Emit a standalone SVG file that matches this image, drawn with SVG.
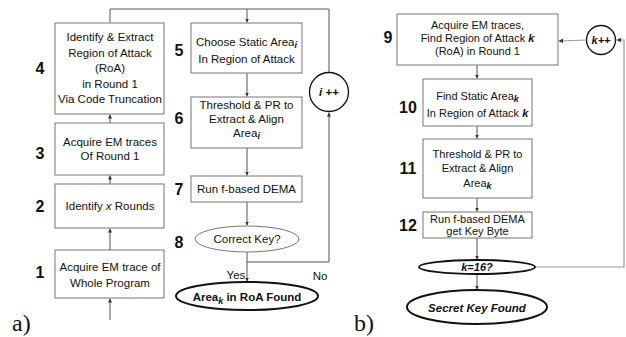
<svg xmlns="http://www.w3.org/2000/svg" width="626" height="337" viewBox="0 0 626 337">
  <style>
    .box { fill: #fff; stroke: #777; stroke-width: 1; }
    .t { font-family: "Liberation Sans", Arial, sans-serif; font-size: 11.5px; fill: #111; text-anchor: middle; }
    .ts { font-family: "Liberation Sans", Arial, sans-serif; font-size: 11px; fill: #111; text-anchor: middle; }
    .num { font-family: "Liberation Sans", Arial, sans-serif; font-size: 16px; font-weight: bold; fill: #111; text-anchor: middle; }
    .cap { font-family: "Liberation Serif", "Times New Roman", serif; font-size: 24px; fill: #111; }
    .line { fill: none; stroke: #555; stroke-width: 1; }
    .loop { fill: none; stroke: #999; stroke-width: 1.2; }
    .sub { font-size: 9px; font-style: italic; font-weight: bold; }
  </style>
  <defs>
    <marker id="arr" viewBox="0 0 6 6" refX="6" refY="3" markerWidth="4" markerHeight="4" orient="auto">
      <path d="M0,0 L6,3 L0,6 z" fill="#333"/>
    </marker>
  </defs>

  <rect width="626" height="337" fill="#fff"/>

  <!-- connectors -->
  <g id="connectors">
    <!-- part a: upward chain on the left -->
    <line class="line" x1="110" y1="320" x2="110" y2="298.5" marker-end="url(#arr)"/>
    <line class="line" x1="110" y1="250" x2="110" y2="228.5" marker-end="url(#arr)"/>
    <line class="line" x1="110" y1="184" x2="110" y2="175.5" marker-end="url(#arr)"/>
    <line class="line" x1="110" y1="123" x2="110" y2="114.5" marker-end="url(#arr)"/>
    <!-- part a: top bus and downward chain -->
    <polyline class="line" points="110,23 110,9 329,9 329,72.5"/>
    <line class="line" x1="247" y1="9" x2="247" y2="22.5" marker-end="url(#arr)"/>
    <line class="line" x1="247" y1="73" x2="247" y2="96.5" marker-end="url(#arr)"/>
    <line class="line" x1="247" y1="148" x2="247" y2="175.5" marker-end="url(#arr)"/>
    <line class="line" x1="247" y1="202" x2="247" y2="225.5" marker-end="url(#arr)"/>
    <line class="line" x1="247" y1="252" x2="247" y2="281.5" marker-end="url(#arr)"/>
    <polyline class="line" points="247,262 329,262 329,112.5" marker-end="url(#arr)"/>
    <!-- part b -->
    <line class="line" x1="477" y1="65" x2="477" y2="78.5" marker-end="url(#arr)"/>
    <line class="line" x1="477" y1="126" x2="477" y2="138.5" marker-end="url(#arr)"/>
    <line class="line" x1="477" y1="198" x2="477" y2="211.5" marker-end="url(#arr)"/>
    <line class="line" x1="477" y1="238" x2="477" y2="259.5" marker-end="url(#arr)"/>
    <line class="line" x1="477" y1="274" x2="477" y2="289.5" marker-end="url(#arr)"/>
    <polyline class="loop" points="535,267 624,267 624,40 616.5,40" marker-end="url(#arr)"/>
    <line class="loop" x1="587" y1="40" x2="558.5" y2="41" marker-end="url(#arr)"/>
  </g>

  <!-- part a nodes -->
  <g id="n4">
    <rect class="box" x="55" y="23" width="109" height="91"/>
    <text class="t" x="110" y="41">Identify &amp; Extract</text>
    <text class="t" x="110" y="57">Region of Attack</text>
    <text class="t" x="110" y="72">(RoA)</text>
    <text class="t" x="110" y="88">in Round 1</text>
    <text class="t" x="110" y="103">Via Code Truncation</text>
    <text class="num" x="40" y="74">4</text>
  </g>
  <g id="n3">
    <rect class="box" x="55" y="123" width="109" height="52"/>
    <text class="t" x="110" y="146">Acquire EM traces</text>
    <text class="t" x="110" y="160">Of Round 1</text>
    <text class="num" x="40" y="159">3</text>
  </g>
  <g id="n2">
    <rect class="box" x="55" y="184" width="109" height="44"/>
    <text class="t" x="110" y="210">Identify <tspan font-style="italic">x</tspan> Rounds</text>
    <text class="num" x="40" y="212">2</text>
  </g>
  <g id="n1">
    <rect class="box" x="55" y="250" width="109" height="48"/>
    <text class="t" x="110" y="271">Acquire EM trace of</text>
    <text class="t" x="110" y="287">Whole Program</text>
    <text class="num" x="40" y="278">1</text>
  </g>
  <g id="n5">
    <rect class="box" x="191" y="23" width="111" height="50"/>
    <text class="t" x="246.5" y="46">Choose Static Area<tspan class="sub" dy="2">i</tspan></text>
    <text class="t" x="246.5" y="63">In Region of Attack</text>
    <text class="num" x="179" y="56">5</text>
  </g>
  <g id="n6">
    <rect class="box" x="191" y="97" width="111" height="51"/>
    <text class="t" x="246.5" y="109">Threshold &amp; PR to</text>
    <text class="t" x="246.5" y="123">Extract &amp; Align</text>
    <text class="t" x="246.5" y="137">Area<tspan class="sub" dy="2">i</tspan></text>
    <text class="num" x="179" y="124">6</text>
  </g>
  <g id="n7">
    <rect class="box" x="191" y="176" width="111" height="26"/>
    <text class="t" x="246.5" y="193">Run f-based DEMA</text>
    <text class="num" x="179" y="195">7</text>
  </g>
  <g id="n8">
    <ellipse cx="247" cy="239" rx="52" ry="13" fill="#fff" stroke="#777" stroke-width="1"/>
    <text class="t" x="247" y="243">Correct Key?</text>
    <text class="num" x="179" y="248">8</text>
    <text class="t" x="236" y="279">Yes</text>
    <text class="t" x="320" y="280">No</text>
  </g>
  <g id="n_inc_i">
    <circle cx="329" cy="92" r="19.5" fill="#fff" stroke="#111" stroke-width="1.3"/>
    <text class="t" x="329" y="96" font-weight="bold"><tspan font-style="italic">i</tspan> ++</text>
  </g>
  <g id="n_found_a">
    <ellipse cx="247" cy="296" rx="71" ry="14" fill="#fff" stroke="#111" stroke-width="2"/>
    <text class="t" x="247" y="301" font-size="13" font-weight="bold">Area<tspan class="sub" dy="3">k</tspan><tspan dy="-3"> in RoA Found</tspan></text>
  </g>
  <text class="cap" x="12" y="331">a)</text>

  <!-- part b nodes -->
  <g id="n9">
    <rect class="box" x="397" y="14" width="161" height="51"/>
    <text class="ts" x="477.5" y="29">Acquire EM traces,</text>
    <text class="ts" x="477.5" y="42">Find  Region of Attack <tspan font-weight="bold" font-style="italic">k</tspan></text>
    <text class="ts" x="477.5" y="55">(RoA) in Round 1</text>
    <text class="num" x="388" y="43">9</text>
  </g>
  <g id="n10">
    <rect class="box" x="423" y="79" width="109" height="47"/>
    <text class="ts" x="477.5" y="100">Find Static Area<tspan class="sub" dy="2">k</tspan></text>
    <text class="ts" x="477.5" y="117">In Region of Attack <tspan font-weight="bold" font-style="italic">k</tspan></text>
    <text class="num" x="408" y="113">10</text>
  </g>
  <g id="n11">
    <rect class="box" x="423" y="139" width="109" height="59"/>
    <text class="ts" x="477.5" y="158">Threshold &amp; PR to</text>
    <text class="ts" x="477.5" y="172">Extract &amp; Align</text>
    <text class="ts" x="477.5" y="187">Area<tspan class="sub" dy="2">k</tspan></text>
    <text class="num" x="408" y="174">11</text>
  </g>
  <g id="n12">
    <rect class="box" x="423" y="212" width="109" height="26"/>
    <text class="ts" x="477.5" y="223">Run f-based DEMA</text>
    <text class="ts" x="477.5" y="235">get Key Byte</text>
    <text class="num" x="408" y="231">12</text>
  </g>
  <g id="n_check">
    <ellipse cx="477" cy="267" rx="58" ry="7" fill="#fff" stroke="#111" stroke-width="1.8"/>
    <text class="ts" x="477" y="271" font-weight="bold" font-style="italic">k=16?</text>
  </g>
  <g id="n_inc_k">
    <circle cx="601" cy="40" r="14.5" fill="#fff" stroke="#111" stroke-width="1.3"/>
    <text class="ts" x="601" y="44" font-weight="bold" font-style="italic">k++</text>
  </g>
  <g id="n_found_b">
    <ellipse cx="477" cy="307" rx="70" ry="17" fill="#fff" stroke="#111" stroke-width="2"/>
    <text class="t" x="477" y="312" font-size="13" font-weight="bold" font-style="italic">Secret Key Found</text>
  </g>
  <text class="cap" x="354" y="331">b)</text>
</svg>
